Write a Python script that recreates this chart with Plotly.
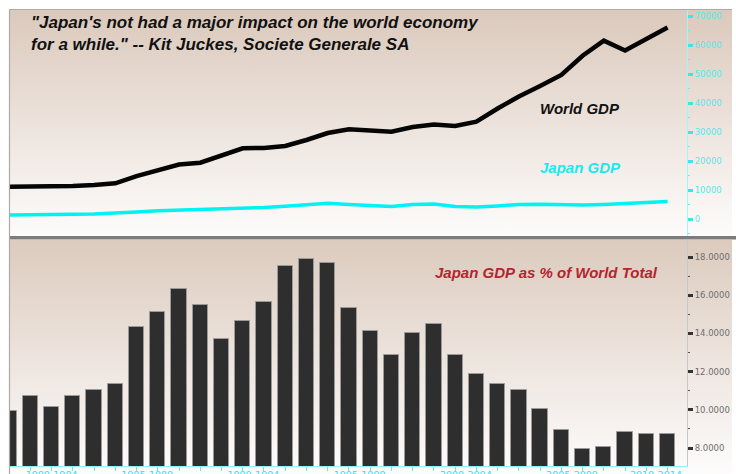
import base64
import plotly.graph_objects as go

# ---------------- data ----------------
years = list(range(1980, 2012))
world_gdp = [11140, 11140, 11200, 11380, 11720, 12300, 14800, 16900, 18800, 19400,
             22070, 24380, 24500, 25170, 27240, 29650, 30930, 30690, 30100, 31720,
             32590, 32070, 33550, 38100, 42240, 45860, 49660, 56300, 61480, 58100,
             62240, 66030]
japan_gdp = [1380, 1380, 1450, 1600, 1750, 1950, 2400, 2850, 3050, 3250,
             3400, 3600, 3950, 4400, 4900, 5400, 5000, 4600, 4300, 5000,
             5200, 4300, 4100, 4500, 5000, 5100, 4900, 4800, 5000, 5300,
             5700, 6000]
japan_share = [9.94, 10.72, 10.13, 10.72, 11.02, 11.33, 14.32, 15.14, 16.31, 15.49,
               13.72, 14.63, 15.63, 17.53, 17.88, 17.70, 15.31, 14.14, 12.85, 14.00,
               14.51, 12.85, 11.86, 11.35, 11.02, 10.03, 8.96, 7.93, 8.07, 8.84,
               8.75, 8.75]
period_labels = ["1980-1984", "1985-1989", "1990-1994", "1995-1999",
                 "2000-2004", "2005-2009", "2010-2014"]
gdp_ticks = [0, 10000, 20000, 30000, 40000, 50000, 60000, 70000]
share_ticks = [8, 10, 12, 14, 16, 18]

# ---------------- layout helpers ----------------
W, H = 736, 474
ML, MR, MT, MB = 9, 49, 10, 8
PW, PH = W - ML - MR, H - MT - MB


def px(xp):
    return (xp - ML) / PW


def py(yp):
    return (H - MB - yp) / PH


label_pos = [1982.0, 1986.5, 1991.5, 1996.5, 2001.5, 2006.5, 2010.45]

CYAN = "#00f2f2"
FONT = "Liberation Sans, Arial, sans-serif"


def grad_uri(top, bottom):
    svg = ("<svg xmlns='http://www.w3.org/2000/svg' width='10' height='100' "
           "viewBox='0 0 10 100' preserveAspectRatio='none'><defs>"
           "<linearGradient id='g' x1='0' y1='0' x2='0' y2='1'>"
           f"<stop offset='0' stop-color='{top}'/><stop offset='1' stop-color='{bottom}'/>"
           "</linearGradient></defs><rect width='10' height='100' fill='url(#g)'/></svg>")
    return "data:image/svg+xml;base64," + base64.b64encode(svg.encode()).decode()


fig = go.Figure()

fig.add_trace(go.Bar(
    x=years, y=japan_share, width=0.72, xaxis="x", yaxis="y2",
    marker=dict(color="#2e2e2e", line=dict(color="#9a9a9a", width=1)),
    showlegend=False))

fig.add_trace(go.Scatter(
    x=years, y=world_gdp, mode="lines", xaxis="x2", yaxis="y",
    line=dict(color="#050505", width=4.5), showlegend=False))
fig.add_trace(go.Scatter(
    x=years, y=japan_gdp, mode="lines", xaxis="x2", yaxis="y",
    line=dict(color=CYAN, width=3.5), showlegend=False))

y_top_dom = [py(236), 1.0]
y_bot_dom = [0.0, py(240)]
xr = [1979.995, 2011.915]

fig.update_layout(
    width=W, height=H,
    margin=dict(l=ML, r=MR, t=MT, b=MB, pad=0, autoexpand=False),
    paper_bgcolor="white", plot_bgcolor="rgba(0,0,0,0)",
    bargap=0,
    xaxis=dict(domain=[0, 1], anchor="y2", range=xr, automargin=False,
               showgrid=False, zeroline=False,
               showline=True, linecolor="#8ff3f3", linewidth=1,
               tickmode="array", tickvals=label_pos, ticktext=period_labels,
               ticks="", tickfont=dict(family="DejaVu Sans", size=9.5, color="#22e6ee"),
               minor=dict(tickmode="array", tickvals=years, ticks="outside",
                          ticklen=4, tickcolor="#5eeeee", tickwidth=1)),
    xaxis2=dict(domain=[0, 1], anchor="y", range=xr, matches="x", automargin=False,
                showgrid=False, zeroline=False, showline=False,
                showticklabels=False, ticks=""),
    yaxis=dict(domain=y_top_dom, anchor="x2", side="right", automargin=False,
               range=[-5862, 72069], showgrid=False, zeroline=False,
               showline=True, linecolor="#a8f4f4", linewidth=1,
               tickmode="array", tickvals=gdp_ticks, tickformat="d",
               ticks="outside", ticklen=5, tickwidth=3, tickcolor="#33eaea",
               tickfont=dict(family="DejaVu Sans", size=8.5, color="#55e8ea"),
               minor=dict(tickmode="linear", tick0=-5000, dtick=10000,
                          ticks="outside", ticklen=2, tickwidth=1, tickcolor="#66eeee")),
    yaxis2=dict(domain=y_bot_dom, anchor="x", side="right", automargin=False,
                range=[7.058, 18.89], showgrid=False, zeroline=False,
                showline=True, linecolor="#c8c8c8", linewidth=1,
                tickmode="array", tickvals=share_ticks, tickformat=".4f",
                ticks="outside", ticklen=5, tickwidth=3, tickcolor="#333333",
                tickfont=dict(family="DejaVu Sans", size=8.5, color="#6e6e6e"),
                minor=dict(tickmode="linear", tick0=7, dtick=2,
                           ticks="outside", ticklen=2, tickwidth=1, tickcolor="#555555")),
    images=[
        dict(source=grad_uri("#dbc9bc", "#fdfcfb"), xref="paper", yref="paper",
             x=px(9), y=py(10), sizex=px(732) - px(9), sizey=py(10) - py(236),
             xanchor="left", yanchor="top", sizing="stretch", layer="below"),
        dict(source=grad_uri("#dccbbe", "#fdfcfc"), xref="paper", yref="paper",
             x=px(9), y=py(240), sizex=px(732) - px(9), sizey=py(240) - py(474),
             xanchor="left", yanchor="top", sizing="stretch", layer="below"),
    ],
    shapes=[
        dict(type="rect", xref="paper", yref="paper", x0=px(9), x1=px(736),
             y0=py(239.5), y1=py(236), fillcolor="#7c7c7c", line=dict(width=0), layer="above"),
        dict(type="line", xref="paper", yref="paper", x0=px(9.5), x1=px(9.5),
             y0=py(9), y1=py(474), line=dict(color="#b0aaa6", width=1.2), layer="above"),
        dict(type="line", xref="paper", yref="paper", x0=px(9), x1=px(732),
             y0=py(9.5), y1=py(9.5), line=dict(color="#b0aaa6", width=1.2), layer="above"),
    ],
    annotations=[
        dict(xref="paper", yref="paper", x=px(29), y=py(11), xanchor="left", yanchor="top",
             align="left", showarrow=False,
             text="<b><i>\"Japan's not had a major impact on the world economy<br>"
                  "for a while.\" -- Kit Juckes, Societe Generale SA</i></b>",
             font=dict(family=FONT, size=17, color="#111111")),
        dict(xref="paper", yref="paper", x=px(580), y=py(108), xanchor="center", yanchor="middle",
             showarrow=False, text="<b><i>World GDP</i></b>",
             font=dict(family=FONT, size=15, color="#111111")),
        dict(xref="paper", yref="paper", x=px(580), y=py(168), xanchor="center", yanchor="middle",
             showarrow=False, text="<b><i>Japan GDP</i></b>",
             font=dict(family=FONT, size=15, color="#1ee8f0")),
        dict(xref="paper", yref="paper", x=px(546), y=py(272), xanchor="center", yanchor="middle",
             showarrow=False, text="<b><i>Japan GDP as % of World Total</i></b>",
             font=dict(family=FONT, size=15, color="#b3262f")),
    ],
)

fig.write_html("out.html", config={"displayModeBar": False},
               post_script="document.body.style.margin='0';")
